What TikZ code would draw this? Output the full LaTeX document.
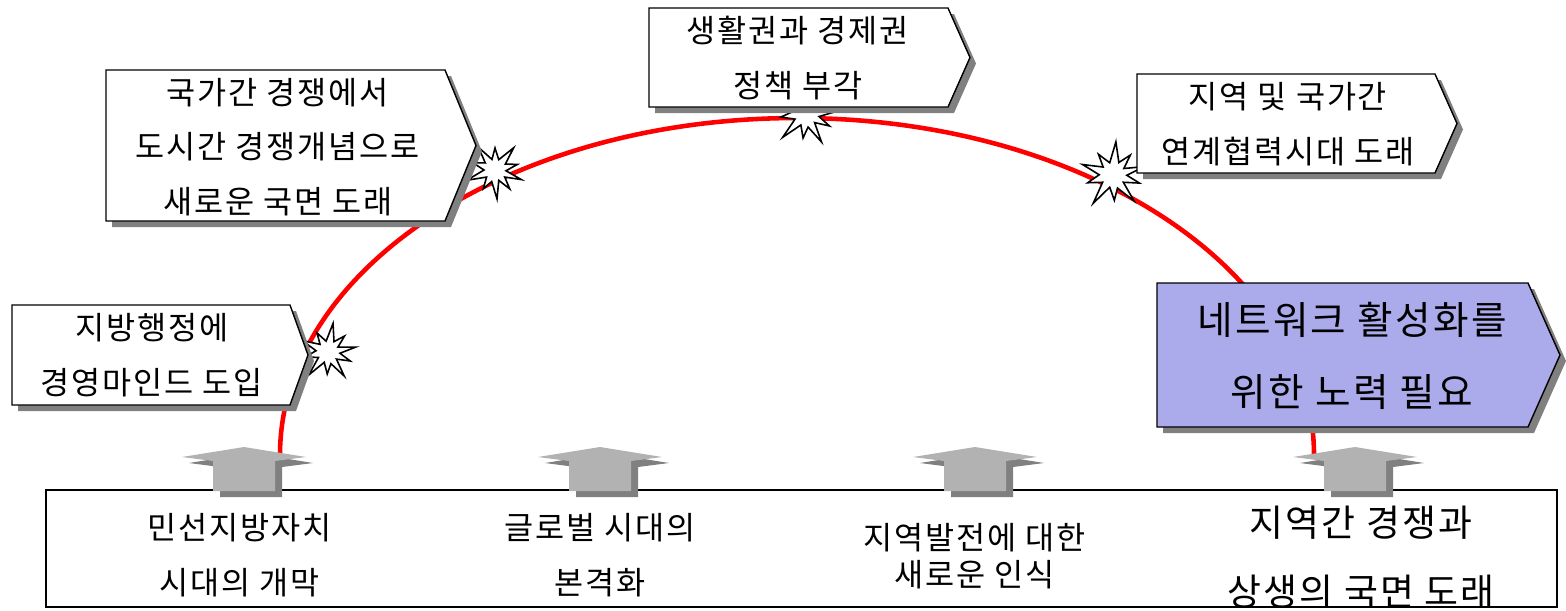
\documentclass[tikz,border=0pt]{standalone}
\usepackage{fontspec}
\setmainfont{Noto Sans CJK KR}[LetterSpace=6]
\usetikzlibrary{positioning}
\colorlet{arccol}{red}
\definecolor{netcol}{RGB}{171,171,235}
\colorlet{arrowcol}{black!30}
\colorlet{shadowcol}{black!50}
\tikzstyle{signframe}=[draw=black,line width=0.8pt,line join=miter]
\tikzstyle{boxshadow}=[fill=shadowcol]
\tikzstyle{burstline}=[draw=black,fill=white,line width=0.9pt,line join=miter]
\tikzstyle{label}=[align=center,font=\fontsize{18}{31}\selectfont]
\tikzstyle{biglabel}=[align=center,font=\fontsize{22}{41}\selectfont]

% pentagon box: x1, y1, x2, y2, tip, fill
\newcommand\signbox[6]{%
  \fill[boxshadow] (#1+6,#2+6) -- (#3+6,#2+6) -- (#3+#5+6,{(#2+#4)/2+6})
    -- (#3+6,#4+6) -- (#1+6,#4+6) -- cycle;
  \draw[signframe,fill=#6] (#1,#2) -- (#3,#2) -- (#3+#5,{(#2+#4)/2})
    -- (#3,#4) -- (#1,#4) -- cycle;
}
% explosion mark: x, y, rotation, scale
\newcommand\burst[4]{%
  \draw[burstline,shift={(#1,#2)},rotate=#3,scale=#4]
    (0:28) -- (16:12) -- (32:24) -- (50:11) -- (66:29) -- (86:12)
    -- (102:22) -- (120:11) -- (140:30) -- (160:11) -- (178:23)
    -- (196:12) -- (214:28) -- (234:11) -- (250:22) -- (270:11)
    -- (290:29) -- (310:12) -- (326:23) -- (344:11) -- cycle;
}
% up arrow with shadow: centre x
\newcommand\grayarrow[1]{%
  \fill[shadowcol,shift={(7,6)}] (#1-31,491) -- (#1-31,461) -- (#1-62,457)
    -- (#1,447) -- (#1+62,457) -- (#1+31,461) -- (#1+31,491) -- cycle;
  \fill[arrowcol] (#1-31,491) -- (#1-31,461) -- (#1-62,457)
    -- (#1,447) -- (#1+62,457) -- (#1+31,461) -- (#1+31,491) -- cycle;
}

\begin{document}
\begin{tikzpicture}[x=0.02cm,y=-0.02cm]
  \useasboundingbox[fill=white] (0,0) rectangle (1566,610);

  % BOTTOM BAND
  \draw[line width=0.9pt] (46,490) rectangle (1557,607);
  \node[label] (era1) at (240,555) {민선지방자치\\시대의 개막};
  \node[label] (era2) at (600,555) {글로벌 시대의\\본격화};
  \node[align=center,font=\fontsize{18}{21}\selectfont] (era3) at (975,556)
    {지역발전에 대한\\새로운 인식};
  \node[align=center,font=\fontsize{21}{39}\selectfont] (era4) at (1361,557)
    {지역간 경쟁과\\상생의 국면 도래};

  % ARC
  \draw[arccol,line width=2.6pt] (280,455) arc[start angle=180,end angle=360,
    x radius=517,y radius=337];

  % BURSTS
  \burst{328}{352}{10}{1}
  \burst{495}{170}{-20}{1}
  \burst{806}{114}{5}{1.1}
  \burst{1113}{175}{15}{1.15}

  % BOXES
  \signbox{12}{305}{290}{405}{18}{white}
  \node[label] (admin) at (152,355) {지방행정에\\경영마인드 도입};
  \signbox{106}{70}{445}{221}{31}{white}
  \node[label] (city) at (278,147) {국가간 경쟁에서\\도시간 경쟁개념으로\\새로운 국면 도래};
  \signbox{649}{8}{948}{107}{22}{white}
  \node[label] (policy) at (798,58) {생활권과 경제권\\정책 부각};
  \signbox{1137}{74}{1435}{173}{22}{white}
  \node[label] (coop) at (1288,124) {지역 및 국가간\\연계협력시대 도래};
  \signbox{1157}{283}{1528}{427}{32}{netcol}
  \node[biglabel] (network) at (1352,356) {네트워크 활성화를\\위한 노력 필요};

  % ARROWS
  \foreach \c in {244,600,975,1355}{
    \grayarrow{\c}
  }
\end{tikzpicture}
\end{document}
